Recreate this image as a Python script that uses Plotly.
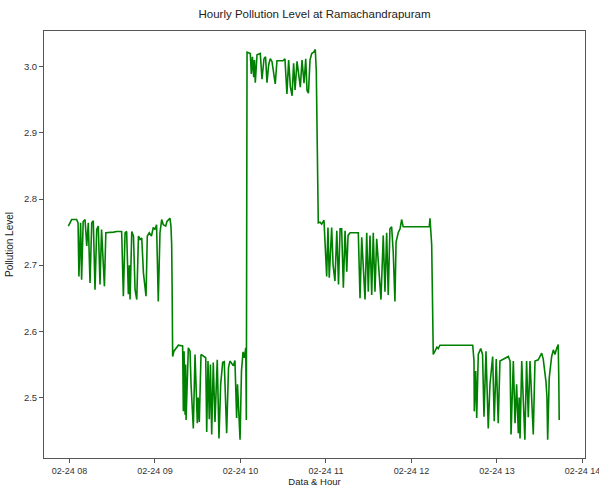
import pandas as pd
import plotly.graph_objects as go

# Minutes after 2020-02-24 08:00 and pollution level readings
minutes = [
    -0.8, 1.5, 5.0, 6.0, 6.6, 7.3, 7.8, 8.5, 9.6, 10.9, 12.1, 13.2, 14.4, 15.6, 16.7, 17.9,
    19.1, 20.2, 21.4, 22.5, 24.5, 25.5, 26.1, 31.0, 33.0, 36.6, 37.8, 39.0, 40.1, 41.3, 42.0,
    42.5, 43.7, 44.9, 46.0, 47.2, 48.4, 49.6, 50.7, 51.9, 53.7, 54.6, 56.0, 57.5, 58.8, 60.0,
    61.1, 62.3, 63.5, 64.7, 65.8, 67.5, 68.4, 69.8, 70.5, 71.2, 71.7, 72.0, 72.4,
    73.3, 76.4, 79.4, 79.9, 80.4, 81.1, 81.5, 81.8, 83.4, 84.6, 85.3, 86.9, 88.1, 89.7, 90.3,
    91.1, 92.3, 93.9, 95.6, 96.3, 97.2, 98.1, 98.9, 99.8, 100.9, 102.1, 103.7, 104.9, 106.1,
    107.5, 108.6, 110.3, 111.6, 112.6, 115.0, 116.1, 117.3, 117.9, 119.7, 120.7, 121.8, 122.7,
    123.7, 124.1, 124.6,
    126.9, 127.6, 128.4, 129.3, 129.8, 130.4, 131.6, 133.9, 135.1, 136.5, 137.6, 138.6, 139.8,
    140.9, 142.1, 144.4, 145.6, 149.8, 151.2, 152.6, 153.8, 155.0, 156.2, 157.3, 158.3, 159.7,
    162.0, 163.2, 164.6, 165.8, 166.7, 167.7, 168.8, 170.0, 171.4, 172.5, 173.2, 174.1, 174.6,
    175.8, 177.0, 178.6, 180.5, 181.4, 182.3, 184.0, 185.0, 186.3, 187.6, 188.8, 189.9, 191.0,
    192.2, 193.4, 194.6, 195.5, 196.9, 202.7, 203.9, 205.1, 206.0, 207.4, 208.6, 209.7, 210.9,
    212.1, 213.2, 214.4, 215.6, 216.8, 218.6, 220.2, 221.4, 222.6, 223.7, 224.9, 226.1, 227.2,
    228.4, 229.2, 230.7, 232.0, 233.1, 234.2, 252.5, 253.0, 254.2, 254.6, 255.3,
    256.5, 257.9, 258.8, 260.0, 283.0, 283.9, 284.1, 285.1, 285.8, 286.9, 288.6, 289.9, 290.9,
    292.3, 293.9, 295.1, 297.0, 298.1, 299.5, 300.9, 302.1, 304.4, 306.3, 308.0, 309.2, 309.9,
    311.5, 312.7, 313.8, 315.0, 315.6, 316.2, 317.4, 318.5, 319.6, 320.8, 322.0, 323.2, 325.5,
    326.7, 329.0, 330.2, 331.4, 332.5, 334.4, 335.1, 335.6, 336.7, 338.4, 339.6, 340.7, 341.9,
    343.0, 343.4, 343.7,
]

levels = [
    2.759, 2.769, 2.769, 2.764, 2.683, 2.749, 2.764, 2.678, 2.766, 2.769, 2.729, 2.764, 2.673, 2.764, 2.767, 2.663,
    2.754, 2.759, 2.671, 2.754, 2.668, 2.749, 2.749, 2.750, 2.751, 2.751, 2.653, 2.749, 2.751, 2.656, 2.700,
    2.648, 2.751, 2.744, 2.663, 2.648, 2.744, 2.739, 2.741, 2.688, 2.653, 2.744, 2.749, 2.744, 2.757, 2.754,
    2.761, 2.645, 2.749, 2.769, 2.761, 2.759, 2.766, 2.769, 2.771, 2.759, 2.732, 2.671, 2.562,
    2.570, 2.579, 2.578, 2.479, 2.570, 2.474, 2.550, 2.466, 2.575, 2.570, 2.520, 2.453, 2.565, 2.461, 2.500,
    2.463, 2.565, 2.563, 2.560, 2.448, 2.555, 2.467, 2.550, 2.444, 2.553, 2.463, 2.557, 2.438, 2.520,
    2.553, 2.554, 2.446, 2.545, 2.555, 2.548, 2.556, 2.469, 2.520, 2.436, 2.540, 2.569, 2.560,
    2.575, 2.466, 3.022,
    3.020, 2.989, 3.015, 2.984, 3.010, 2.976, 3.018, 3.020, 2.981, 3.012, 3.015, 2.976, 3.003,
    3.012, 3.008, 2.974, 3.009, 3.009, 3.012, 2.959, 3.010, 2.970, 2.956, 3.005, 2.965, 3.008,
    2.969, 3.010, 2.975, 3.012, 2.964, 2.960, 3.010, 3.020, 3.022, 3.026, 2.994, 2.772, 2.764,
    2.765, 2.762, 2.768, 2.683, 2.757, 2.681, 2.757, 2.700, 2.676, 2.752, 2.671, 2.755, 2.755,
    2.666, 2.752, 2.690, 2.745, 2.749, 2.749, 2.650, 2.742, 2.700, 2.648, 2.749, 2.660, 2.745,
    2.655, 2.749, 2.660, 2.740, 2.700, 2.648, 2.745, 2.660, 2.749, 2.655, 2.755, 2.758, 2.720,
    2.645, 2.735, 2.749, 2.755, 2.769, 2.758, 2.758, 2.771, 2.731, 2.671, 2.565,
    2.570, 2.576, 2.574, 2.579, 2.579, 2.555, 2.479, 2.540, 2.469, 2.565, 2.574, 2.565, 2.471,
    2.570, 2.453, 2.520, 2.562, 2.464, 2.558, 2.461, 2.555, 2.558, 2.560, 2.562, 2.555, 2.444,
    2.555, 2.461, 2.520, 2.446, 2.500, 2.438, 2.555, 2.480, 2.436, 2.555, 2.470, 2.555, 2.444,
    2.555, 2.557, 2.562, 2.567, 2.558, 2.524, 2.500, 2.436, 2.530, 2.562, 2.572, 2.565, 2.574,
    2.580, 2.530, 2.466,
]

tick_hours = ["2020-02-24 08:00", "2020-02-24 09:00", "2020-02-24 10:00", "2020-02-24 11:00",
              "2020-02-24 12:00", "2020-02-24 13:00", "2020-02-24 14:00"]
tick_labels = ["02-24 08", "02-24 09", "02-24 10", "02-24 11", "02-24 12", "02-24 13", "02-24 14"]
y_ticks = [2.5, 2.6, 2.7, 2.8, 2.9, 3.0]

base = pd.Timestamp("2020-02-24 08:00")
times = base + pd.to_timedelta(minutes, unit="min")

fig = go.Figure()
fig.add_trace(go.Scatter(x=times, y=levels, mode="lines",
                         line=dict(color="#008000", width=1.6), hoverinfo="x+y"))

font = "Liberation Sans, Arial, sans-serif"
fig.update_layout(
    width=599, height=487,
    margin=dict(l=44, r=14, t=31, b=29, autoexpand=False),
    paper_bgcolor="white", plot_bgcolor="white",
    showlegend=False,
    font=dict(family=font, size=10, color="#333333"),
    title=dict(text="Hourly Pollution Level at Ramachandrapuram", x=0.5, xanchor="center",
               xref="paper", y=1 - 14 / 487, yanchor="middle",
               font=dict(size=11.5, color="#222222", family=font)),
    xaxis=dict(
        range=[base + pd.Timedelta(minutes=-17.9), base + pd.Timedelta(minutes=361.8)],
        tickvals=pd.to_datetime(tick_hours), ticktext=tick_labels,
        showgrid=False, zeroline=False, automargin=False,
        showline=True, mirror=True, linecolor="#555555", linewidth=1,
        ticks="outside", ticklen=4, tickcolor="#555555",
        ticklabeloverflow="allow",
        tickfont=dict(size=9, color="#333333"),
        title=dict(text="Data & Hour", standoff=4, font=dict(size=9.5, color="#222222")),
    ),
    yaxis=dict(
        range=[2.4085, 3.054],
        tickvals=y_ticks, tickformat=".1f",
        showgrid=False, zeroline=False, automargin=False,
        showline=True, mirror=True, linecolor="#555555", linewidth=1,
        ticks="outside", ticklen=4, tickcolor="#555555",
        tickfont=dict(size=9.5, color="#333333"),
        title=dict(text="Pollution Level", standoff=8, font=dict(size=10, color="#222222")),
    ),
)

fig.write_html("out.html")
